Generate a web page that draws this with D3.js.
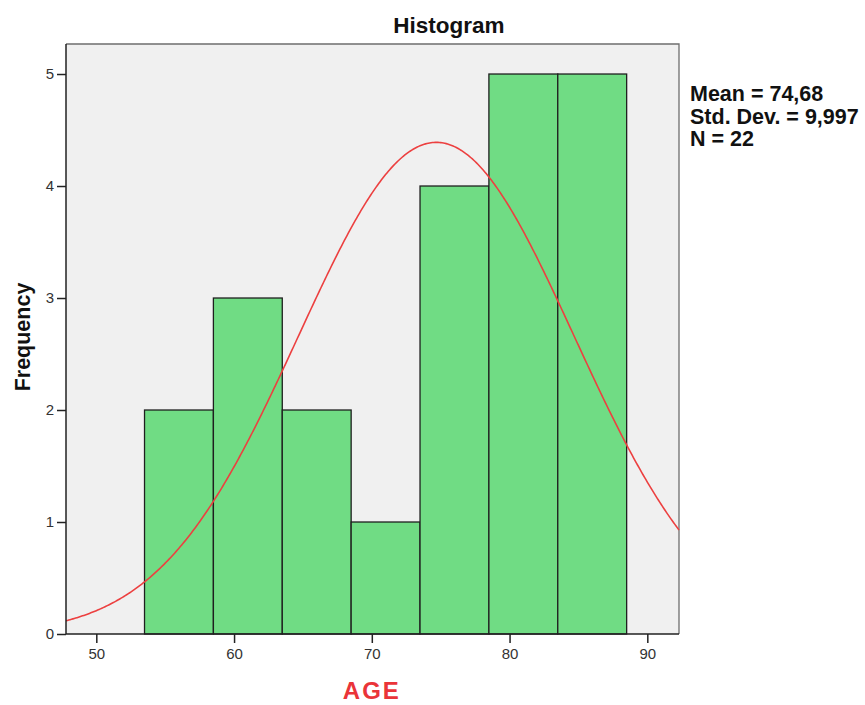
<!DOCTYPE html>
<html>
<head>
<meta charset="utf-8">
<script src="https://cdn.jsdelivr.net/npm/d3@7"></script>
<style>
  body { margin: 0; background: #fff; }
  svg { display: block; font-family: "Liberation Sans", Arial, sans-serif; }
</style>
</head>
<body>
<svg id="chart" width="865" height="705"></svg>
<script>
// Histogram of AGE (bin width 5, lower edges)
const binStarts = [53.5, 58.5, 63.5, 68.5, 73.5, 78.5, 83.5];
const binWidth = 5;
const counts = [2, 3, 2, 1, 4, 5, 5];
const xTicks = [50, 60, 70, 80, 90];
const yTicks = [0, 1, 2, 3, 4, 5];
const mean = 74.68;
const sd = 9.997;
const n = 22;
const statLines = ["Mean = 74,68", "Std. Dev. = 9,997", "N = 22"];

const svg = d3.select("#chart");
const plotL = 66, plotR = 679, plotT = 44, plotB = 634;

const x = d3.scaleLinear().domain([47.8, 92.3]).range([plotL, plotR]);
const y = d3.scaleLinear().domain([0, 5.268]).range([plotB, plotT]);

// plot background
svg.append("rect")
  .attr("x", plotL).attr("y", plotT)
  .attr("width", plotR - plotL).attr("height", plotB - plotT)
  .attr("fill", "#f0f0f0");

// frame: top and right in gray
svg.append("path")
  .attr("d", `M${plotL},${plotT}H${plotR}V${plotB}`)
  .attr("fill", "none").attr("stroke", "#6e6e6e").attr("stroke-width", 1.3);

// bars
svg.append("g").selectAll("rect")
  .data(binStarts.map((s, i) => ({ s, c: counts[i] })))
  .join("rect")
  .attr("x", d => x(d.s))
  .attr("y", d => y(d.c))
  .attr("width", d => x(d.s + binWidth) - x(d.s))
  .attr("height", d => y(0) - y(d.c))
  .attr("fill", "#70dc84")
  .attr("stroke", "#1f1f1f")
  .attr("stroke-width", 1.3);

// fitted normal curve scaled to counts
const dens = v => n * binWidth / (sd * Math.sqrt(2 * Math.PI)) *
  Math.exp(-0.5 * ((v - mean) / sd) ** 2);
const pts = d3.range(47.8, 92.3001, 0.1).map(v => [v, dens(v)]);
svg.append("path")
  .datum(pts)
  .attr("d", d3.line().x(d => x(d[0])).y(d => y(d[1])))
  .attr("fill", "none")
  .attr("stroke", "#ec4040")
  .attr("stroke-width", 1.6);

// axes
const xAxis = svg.append("g")
  .attr("transform", `translate(0,${plotB})`)
  .call(d3.axisBottom(x).tickValues(xTicks).tickSize(9).tickPadding(5).tickFormat(d3.format("d")));
const yAxis = svg.append("g")
  .attr("transform", `translate(${plotL},0)`)
  .call(d3.axisLeft(y).tickValues(yTicks).tickSize(9).tickPadding(3).tickFormat(d3.format("d")));

[xAxis, yAxis].forEach(g => {
  g.select(".domain").attr("stroke", "#222").attr("stroke-width", 1.5);
  g.selectAll(".tick line").attr("stroke", "#222").attr("stroke-width", 1.5);
  g.selectAll(".tick text")
    .attr("fill", "#333")
    .style("font-size", "15px")
    .style("font-family", "'Liberation Sans', Arial, sans-serif");
});
xAxis.select(".domain").attr("d", `M${plotL},0H${plotR}`);
yAxis.select(".domain").attr("d", `M0,${plotB}V${plotT}`);

// title
svg.append("text")
  .attr("x", 449).attr("y", 33)
  .attr("text-anchor", "middle")
  .style("font-size", "22.5px").style("font-weight", "bold")
  .attr("fill", "#111")
  .text("Histogram");

// axis titles
svg.append("text")
  .attr("x", x(70)).attr("y", 699)
  .attr("text-anchor", "middle")
  .style("font-size", "24px").style("font-weight", "bold")
  .style("letter-spacing", "2px")
  .attr("fill", "#ea3439")
  .text("AGE");

svg.append("text")
  .attr("transform", `translate(30,337) rotate(-90)`)
  .attr("text-anchor", "middle")
  .style("font-size", "21.5px").style("font-weight", "bold")
  .attr("fill", "#111")
  .text("Frequency");

// summary statistics
svg.append("g").selectAll("text")
  .data(statLines)
  .join("text")
  .attr("x", 690)
  .attr("y", (d, i) => 101 + i * 22.5)
  .style("font-size", "21.5px").style("font-weight", "bold")
  .attr("fill", "#111")
  .text(d => d);
</script>
</body>
</html>
